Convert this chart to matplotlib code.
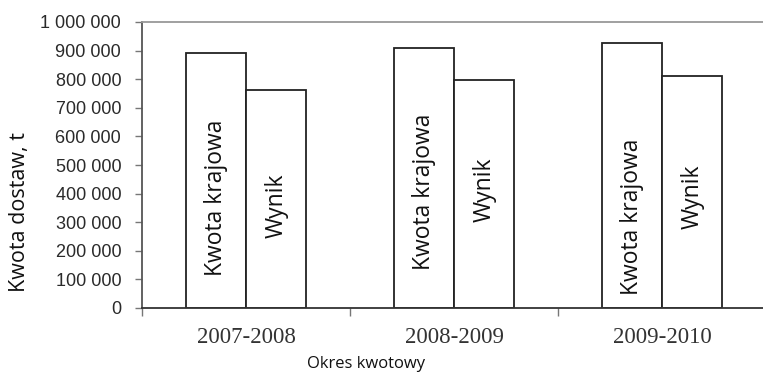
import matplotlib
matplotlib.use("Agg")
import matplotlib.pyplot as plt
import numpy as np

# Milk delivery quota vs. actual deliveries per quota period
periods = ["2007-2008", "2008-2009", "2009-2010"]
quota = [893000, 910000, 928000]      # Kwota krajowa
result = [761000, 797000, 810000]     # Wynik
bar_labels = ["Kwota krajowa", "Wynik"]
yticks = [0, 100000, 200000, 300000, 400000, 500000,
          600000, 700000, 800000, 900000, 1000000]

fig = plt.figure(figsize=(7.63, 3.73), dpi=100)
ax = fig.add_axes([142 / 763, 1 - 308 / 373, 621 / 763, 286 / 373])

x = np.arange(len(periods))
w = 0.29
ax.bar(x - w / 2, quota, w, facecolor="white", edgecolor="#222222", linewidth=1.3, zorder=2)
ax.bar(x + w / 2, result, w, facecolor="white", edgecolor="#222222", linewidth=1.3, zorder=2)

# rotated series names written inside the bars
quota_text_y = [385000, 405000, 318000]
result_text_y = [357000, 413000, 388000]
for i in range(len(periods)):
    ax.text(x[i] - w / 2, quota_text_y[i], bar_labels[0], rotation=90,
            ha="center", va="center", fontsize=16.5, family="Open Sans", color="#111111")
    ax.text(x[i] + w / 2, result_text_y[i], bar_labels[1], rotation=90,
            ha="center", va="center", fontsize=16.5, family="Open Sans", color="#111111")

ax.set_xlim(-0.5, -0.5 + 621 / 208)
ax.set_ylim(0, 1000000)
ax.set_yticks(yticks)
ax.set_yticklabels([f"{v:,}".replace(",", " ") for v in yticks],
                   family="Liberation Sans", fontsize=13, color="#2a2a2a")

# category boundaries carry the x tick marks, names sit at the centres
ax.set_xticks([-0.5, 0.5, 1.5])
ax.set_xticklabels([])
ax.set_xticks(x, minor=True)
ax.set_xticklabels(periods, minor=True, family="Liberation Serif", fontsize=16.5, color="#333333")
ax.tick_params(axis="x", which="minor", length=0, pad=14)
ax.tick_params(axis="x", which="major", length=6, color="#777777", width=1)
ax.tick_params(axis="y", length=5, color="#777777", width=1, pad=10)

ax.spines["left"].set_color("#555555")
ax.spines["bottom"].set_color("#333333")
ax.spines["top"].set_color("#999999")
for side in ["left", "bottom", "top"]:
    ax.spines[side].set_linewidth(1.3)
ax.spines["right"].set_visible(False)

fig.text(20 / 763, 1 - 212 / 373, "Kwota dostaw, t", rotation=90, ha="center", va="center",
         fontsize=15.5, family="Open Sans", color="#111111")
fig.text(366 / 763, 1 - 368 / 373, "Okres kwotowy", ha="center", va="baseline",
         fontsize=12, family="Open Sans", color="#111111")

fig.savefig("out.png", dpi=100)
